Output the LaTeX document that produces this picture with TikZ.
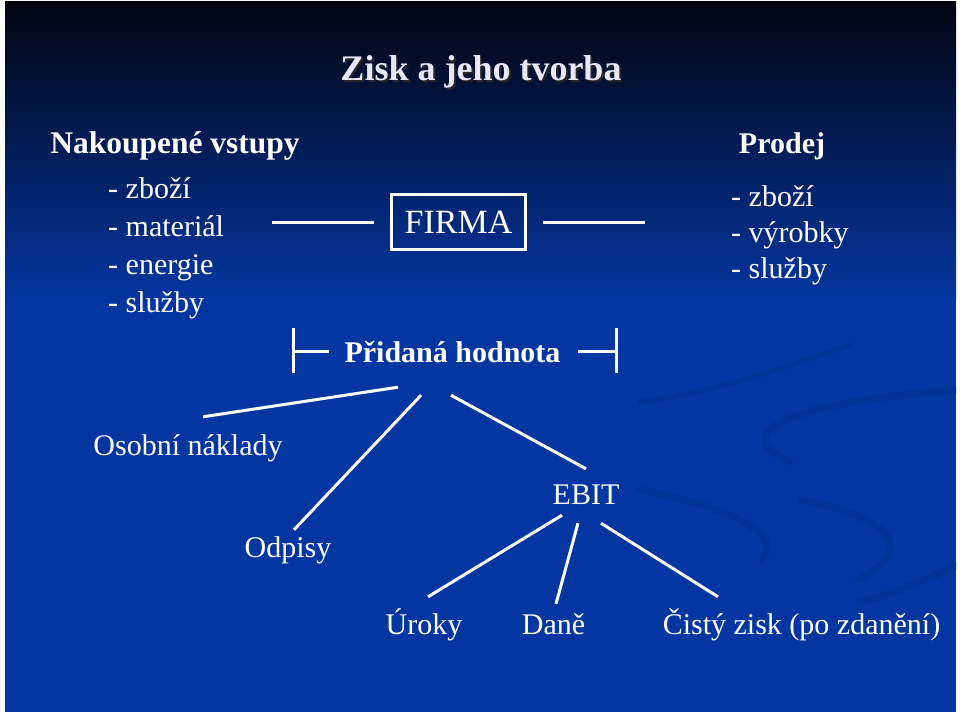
\documentclass[tikz,border=0pt]{standalone}
\usepackage{fontspec}
\setmainfont{Liberation Serif}
\usetikzlibrary{positioning}
\definecolor{slidetop}{RGB}{3,4,16}
\definecolor{slidemid}{RGB}{2,34,116}
\definecolor{slideblue}{RGB}{3,54,160}
\definecolor{swirlblue}{RGB}{2,50,152}
\definecolor{titlelav}{RGB}{232,232,250}
\tikzset{
  link/.style={white,line width=3pt},
  txt/.style={text=white,inner sep=0pt,anchor=base,text height=22pt,text depth=7pt,
              font=\fontsize{30}{36}\selectfont},
  head/.style={txt,font=\fontsize{30}{36}\selectfont\bfseries},
  item/.style={txt,anchor=base west},
  titletext/.style={inner sep=0pt,anchor=base,font=\fontsize{36}{42}\selectfont\bfseries},
  firmbox/.style={draw=white,line width=3pt,minimum width=134pt,minimum height=55pt,
                  inner sep=0pt,text=white,font=\fontsize{34}{40}\selectfont},
  swirl/.style={swirlblue,line width=7pt,line cap=round},
}

\begin{document}
\begin{tikzpicture}[x=1pt,y=-1pt]
  \path[use as bounding box] (0,0) rectangle (960,716);
  \fill[white] (0,0) rectangle (960,716);
  \shade[top color=slidetop,middle color=slidemid,bottom color=slideblue] (5,1) rectangle (956,300);
  \fill[slideblue] (5,299.5) rectangle (956,712);

  % faint swirls of the slide background
  \begin{scope}
    \clip (5,1) rectangle (956,712);
    \draw[swirl,line width=5pt] (640,402) .. controls (720,392) and (790,365) .. (850,345);
    \draw[swirl] (965,390) .. controls (820,398) and (715,428) .. (790,462);
    \draw[swirl] (640,490) .. controls (720,505) and (785,530) .. (762,560);
    \draw[swirl] (800,500) .. controls (880,515) and (925,545) .. (858,580);
    \draw[swirl] (860,602) .. controls (900,592) and (935,575) .. (965,562);
  \end{scope}

  \node[titletext,text=black!85] (titleshadow) at (483,82) {Zisk a jeho tvorba};
  \node[titletext,text=titlelav] (title) at (481,80) {Zisk a jeho tvorba};

  % inputs and sales
  \node[head,font=\fontsize{31.5}{36}\selectfont\bfseries] (inputs) at (175,153) {Nakoupené vstupy};
  \foreach \t [count=\i] in {zboží,materiál,energie,služby}
    \node[item] (in\i) at (108,160+38*\i) {- \t};
  \node[head] (sales) at (782,153) {Prodej};
  \foreach \t [count=\i] in {zboží,výrobky,služby}
    \node[item] (out\i) at (731,170+36*\i) {- \t};

  \node[firmbox] (firma) at (458.5,222) {FIRMA};
  \coordinate (inL) at (272,222);
  \coordinate (outR) at (645,222);
  \draw[link,shorten <=16pt] (firma.west) -- (inL);
  \draw[link,shorten <=16pt] (firma.east) -- (outR);

  % added value with its bracket
  \node[head] (value) at (452.5,362) {Přidaná hodnota};
  \coordinate (vL) at (293,351);
  \coordinate (vR) at (616,351);
  \draw[link] (vL) ++(0,-23) -- ++(0,45);
  \draw[link] (vR) ++(0,-23) -- ++(0,45);
  \draw[link] (vL) -- ++(36,0);
  \draw[link] (vR) -- ++(-38,0);

  \node[txt] (osobni) at (188,455) {Osobní náklady};
  \node[txt] (odpisy) at (288,557) {Odpisy};
  \node[txt] (ebit) at (586,504) {EBIT};
  \node[txt] (uroky) at (424,634) {Úroky};
  \node[txt] (dane) at (553.5,634) {Daně};
  \node[txt] (cisty) at (801.5,634) {Čistý zisk (po zdanění)};

  \draw[link] ([shift={(-54.5,18)}]value.south) -- ([shift={(15,-16)}]osobni.north);
  \draw[link] ([shift={(-31.5,26)}]value.south) -- ([shift={(6,-5)}]odpisy.north);
  \draw[link] ([shift={(-1.5,26)}]value.south) -- ([shift={(0,-13)}]ebit.north);
  \draw[link] ([shift={(-24,4)}]ebit.south) -- ([shift={(4,-15)}]uroky.north);
  \draw[link] ([shift={(-8,12)}]ebit.south) -- ([shift={(2.5,-8)}]dane.north);
  \draw[link] ([shift={(15,12)}]ebit.south) -- ([shift={(-83.5,-15)}]cisty.north);
\end{tikzpicture}
\end{document}
